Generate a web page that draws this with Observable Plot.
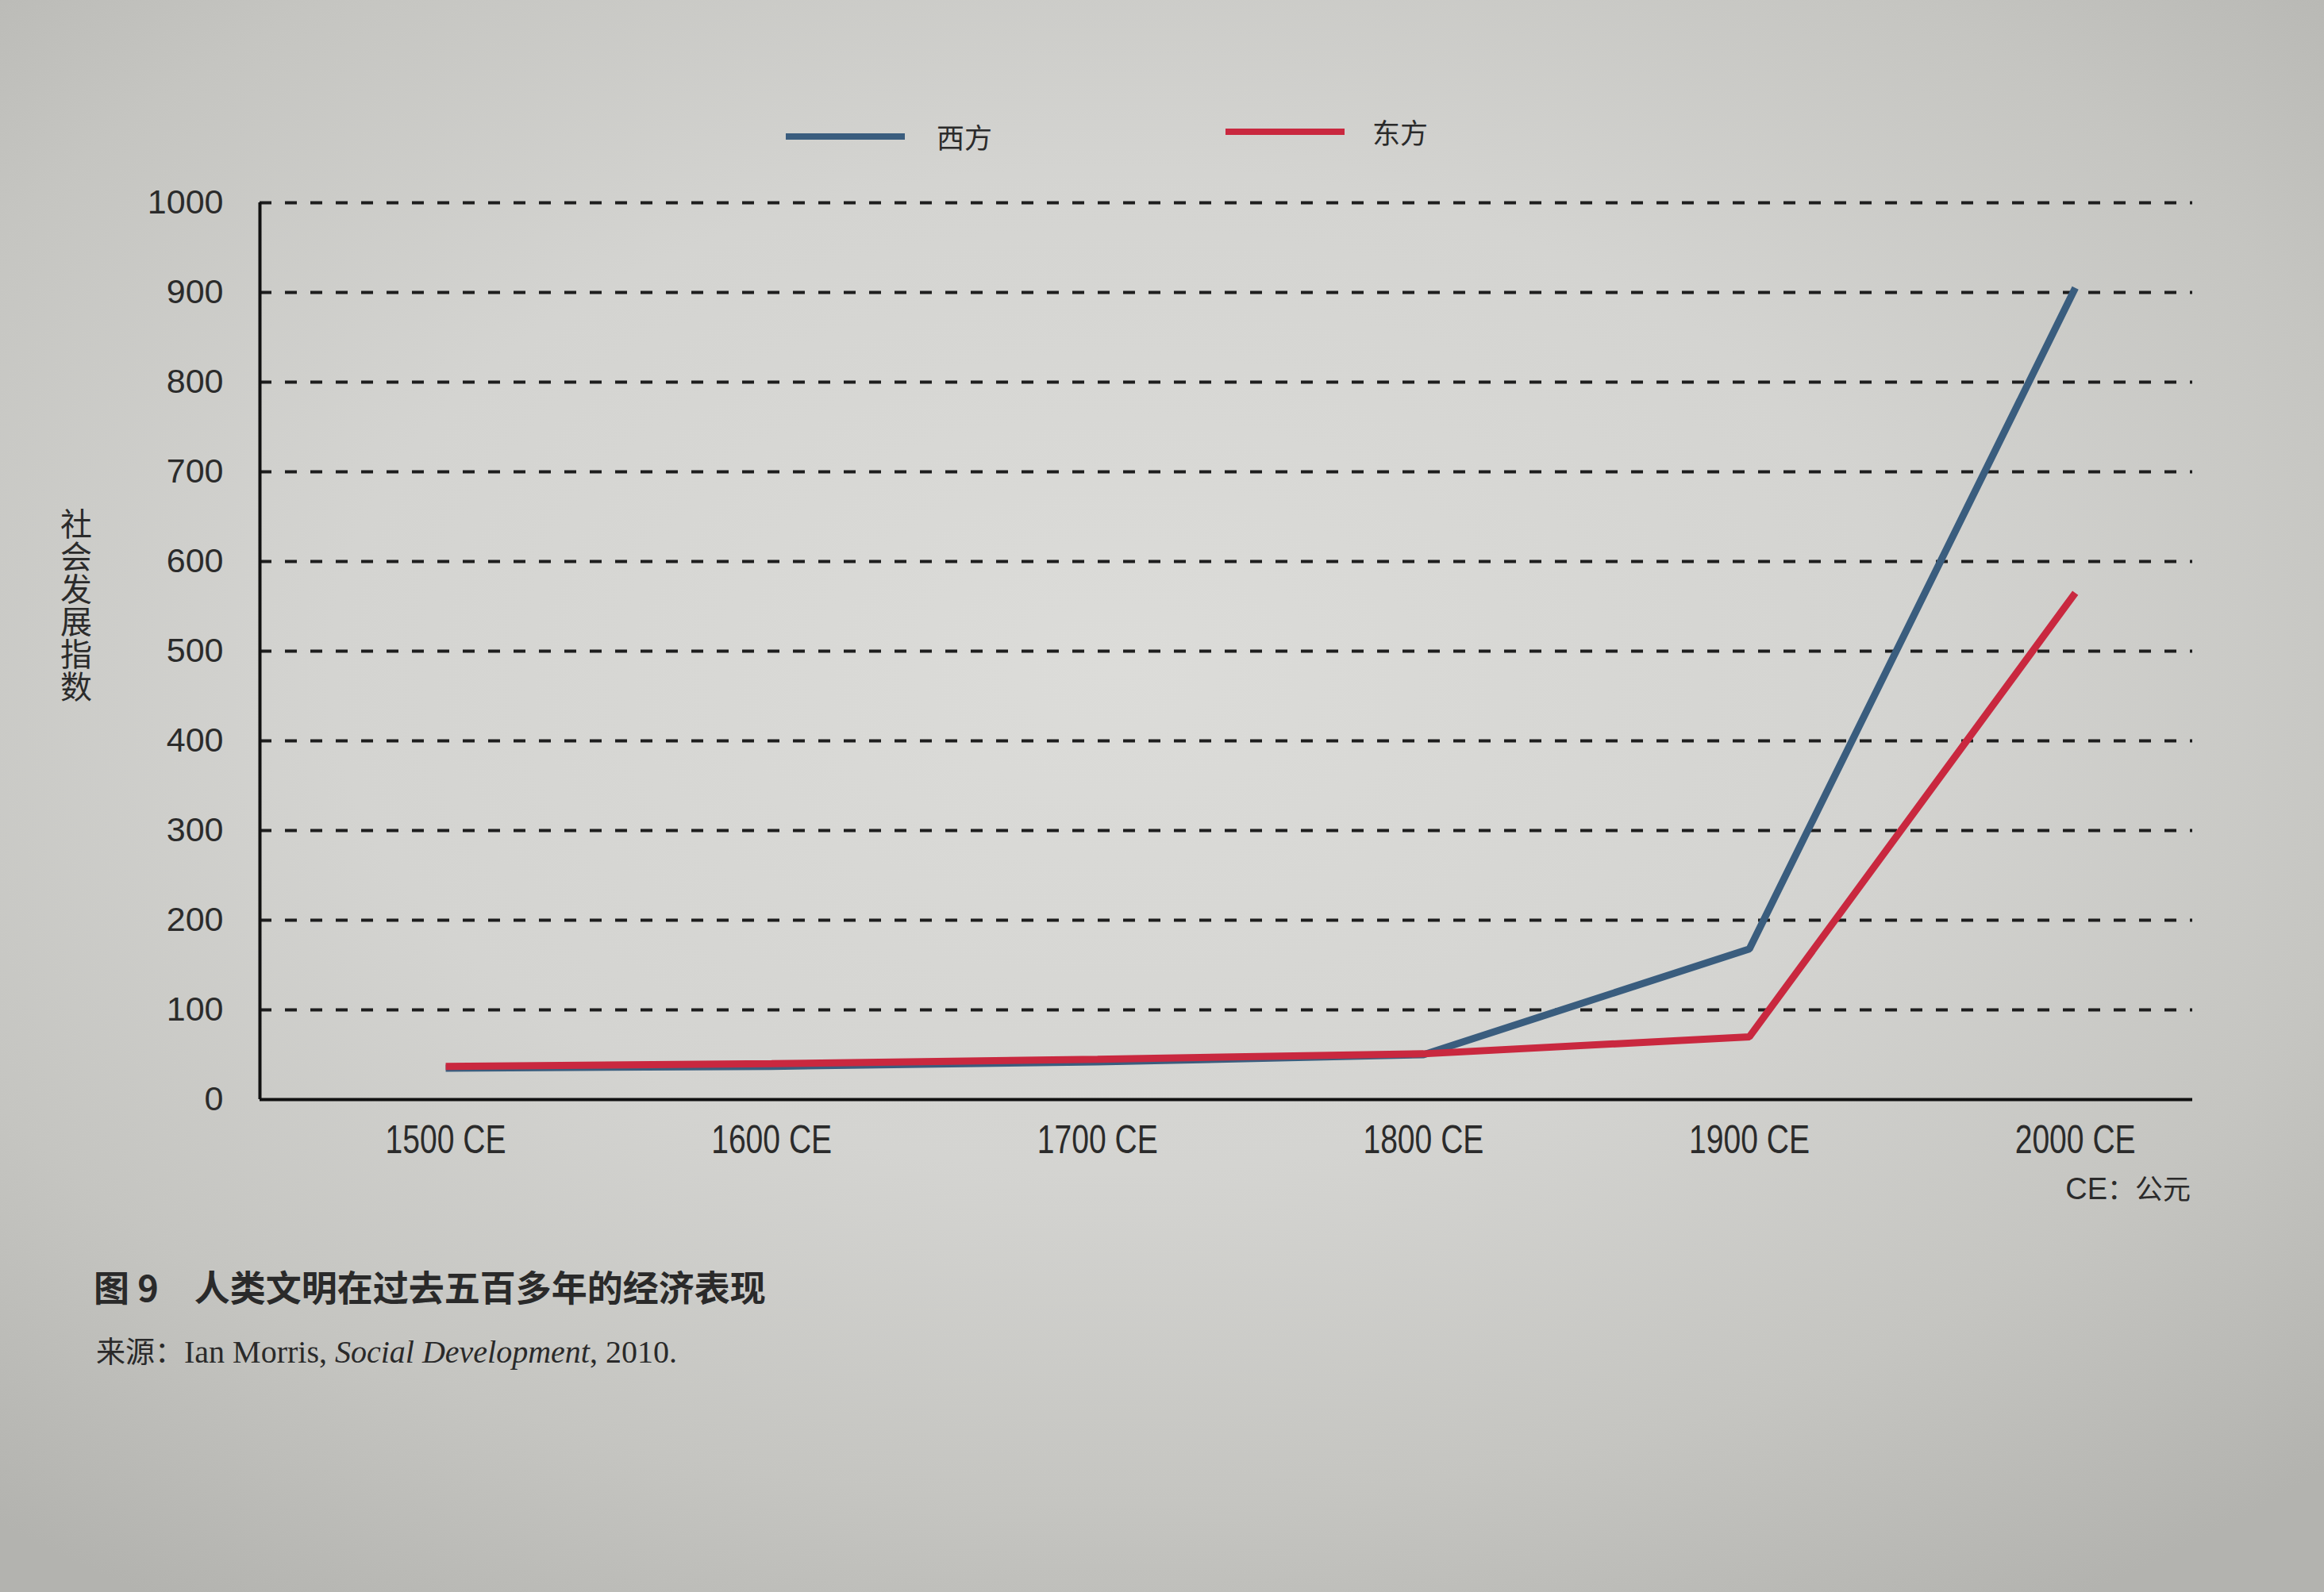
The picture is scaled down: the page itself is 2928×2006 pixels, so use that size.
<!DOCTYPE html>
<html>
<head>
<meta charset="utf-8">
<script src="https://cdn.jsdelivr.net/npm/d3@7"></script>
<script src="https://cdn.jsdelivr.net/npm/@observablehq/plot@0.6"></script>
<style>
  html, body { margin: 0; padding: 0; }
  body {
    width: 2928px; height: 2006px; overflow: hidden; position: relative;
    background: radial-gradient(ellipse 75% 70% at 48% 42%, #dcdcd9 0%, #d4d4d1 45%, #c5c5c1 75%, #b3b3af 100%);
    font-family: "Liberation Sans", Arial, sans-serif; color: #2b2b2b;
  }
  #chart { position: absolute; left: 0; top: 0; }
  .abs { position: absolute; white-space: nowrap; }
  .swatch { position: absolute; height: 8px; width: 150px; }
  .leg { font-family: "Noto Sans CJK SC", sans-serif; font-size: 35px; color: #2b2b2b; }
  #ylabel { font-family: "Noto Sans CJK SC", sans-serif; font-size: 40px; writing-mode: vertical-rl; text-orientation: upright; line-height: 1; letter-spacing: 1px; color: #2b2b2b; }
  #unit { font-family: "Liberation Sans", sans-serif; font-size: 38px; color: #2b2b2b; }
  #unit .cjk { font-family: "Noto Sans CJK SC", sans-serif; font-size: 35px; }
  #title { font-family: "Noto Sans CJK SC", sans-serif; font-size: 45px; font-weight: 700; color: #2a2a2a; }
  #source { font-family: "Liberation Serif", "Times New Roman", serif; font-size: 40px; color: #2a2a2a; }
  #source .cjk { font-family: "Noto Sans CJK SC", sans-serif; font-size: 37px; }
</style>
</head>
<body>
<div id="chart"></div>
<script>
// ---- data ----
const years = [1500, 1600, 1700, 1800, 1900, 2000];
const westValues = [35, 37, 42, 50, 168, 905];
const eastValues = [37, 40, 45, 51, 70, 565];
const seriesNames = ["西方", "东方"];
const seriesColors = ["#3a5d7e", "#c9283f"];
const yTicks = [0, 100, 200, 300, 400, 500, 600, 700, 800, 900, 1000];
const xTickLabel = (d) => `${d} CE`;
const yLabel = "社会发展指数";
const titleText = "图 9　人类文明在过去五百多年的经济表现";

// table built from the arrays (west drawn first, east on top)
const data = [
  ...years.map((y, i) => ({ year: y, value: westValues[i], series: seriesNames[0] })),
  ...years.map((y, i) => ({ year: y, value: eastValues[i], series: seriesNames[1] }))
];

const xDomain = [1443, 2036];

const plot = Plot.plot({
  width: 2928,
  height: 1600,
  marginLeft: 327,
  marginRight: 166,
  marginTop: 255,
  marginBottom: 215,
  style: { background: "transparent", color: "#2b2b2b", fontFamily: "Liberation Sans, Arial, sans-serif", overflow: "visible" },
  x: { domain: xDomain },
  y: { domain: [0, 1000] },
  color: { domain: seriesNames, range: seriesColors },
  marks: [
    Plot.ruleY(yTicks.filter(d => d > 0), { stroke: "#1e1e1e", strokeWidth: 4, strokeDasharray: "15,17" }),
    Plot.axisY({ ticks: yTicks, tickSize: 0, tickPadding: 46, fontSize: 43, label: null, tickFormat: d => String(d) }),
    Plot.axisX({ ticks: years, tickFormat: xTickLabel, tickSize: 0, tickPadding: 32, fontSize: 50, label: null }),
    Plot.line(data, { x: "year", y: "value", stroke: "series", z: "series", strokeWidth: 9, strokeLinejoin: "miter", strokeLinecap: "butt" }),
    Plot.ruleX([xDomain[0]], { y1: 0, y2: 1000, stroke: "#111", strokeWidth: 4 }),
    Plot.ruleY([0], { stroke: "#111", strokeWidth: 4 })
  ]
});
document.getElementById("chart").appendChild(plot);
// condensed look of the x tick labels
d3.select(plot).selectAll('g[aria-label="x-axis tick label"] text')
  .attr("textLength", 152).attr("lengthAdjust", "spacingAndGlyphs");

// ---- legend (above plot area) ----
const legendPos = [{ sw: [990, 168], tx: [1180, 146] }, { sw: [1544, 162], tx: [1729, 140] }];
seriesNames.forEach((name, i) => {
  const sw = document.createElement("div");
  sw.className = "swatch";
  sw.style.left = legendPos[i].sw[0] + "px";
  sw.style.top = legendPos[i].sw[1] + "px";
  sw.style.background = seriesColors[i];
  document.body.appendChild(sw);
  const tx = document.createElement("div");
  tx.className = "abs leg";
  tx.style.left = legendPos[i].tx[0] + "px";
  tx.style.top = legendPos[i].tx[1] + "px";
  tx.textContent = name;
  document.body.appendChild(tx);
});

// ---- y label, unit note, caption ----
const yl = document.createElement("div");
yl.id = "ylabel"; yl.className = "abs";
yl.style.left = "76px"; yl.style.top = "640px";
yl.textContent = yLabel;
document.body.appendChild(yl);

const un = document.createElement("div");
un.id = "unit"; un.className = "abs";
un.style.right = "168px"; un.style.top = "1470px";
un.innerHTML = 'CE<span class="cjk">：公元</span>';
document.body.appendChild(un);

const tt = document.createElement("div");
tt.id = "title"; tt.className = "abs";
tt.style.left = "118px"; tt.style.top = "1588px";
tt.textContent = titleText;
document.body.appendChild(tt);

const src = document.createElement("div");
src.id = "source"; src.className = "abs";
src.style.left = "121px"; src.style.top = "1674px";
src.innerHTML = '<span class="cjk">来源：</span>Ian Morris, <i>Social Development</i>, 2010.';
document.body.appendChild(src);
</script>
</body>
</html>
